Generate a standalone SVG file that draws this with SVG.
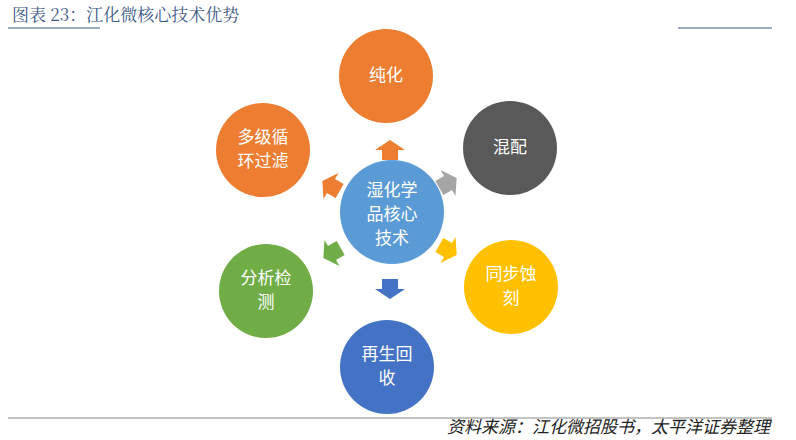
<svg xmlns="http://www.w3.org/2000/svg" width="796" height="440" viewBox="0 0 796 440">
<style>
.t{font-family:"Noto Sans CJK SC",sans-serif;fill:#fff;font-size:17px;text-anchor:middle}
</style>
<defs><polygon id="a" points="-8,10 -8,0 -15,0 0,-10 15,0 8,0 8,10"/></defs>
<rect width="796" height="440" fill="#fff"/>
<text x="12" y="21" font-family="Noto Serif CJK SC,Noto Sans CJK SC,serif" font-size="17" fill="#3d5a86">图表 23：江化微核心技术优势</text>
<line x1="8" y1="28" x2="100" y2="28" stroke="#3d5a86" stroke-width="1"/>
<line x1="678" y1="28" x2="772" y2="28" stroke="#3d5a86" stroke-width="1"/>
<line x1="8" y1="418" x2="772" y2="418" stroke="#888" stroke-width="1"/>
<text x="770" y="433" text-anchor="end" font-family="Noto Sans CJK SC,sans-serif" font-size="17" font-style="italic" fill="#222">资料来源：江化微招股书，太平洋证券整理</text>
<g id="connectors">
<use href="#a" transform="translate(390,150)" fill="#ed7d31"/>
<use href="#a" transform="translate(448,183) rotate(60)" fill="#a5a5a5"/>
<use href="#a" transform="translate(448,250) rotate(120)" fill="#ffc000"/>
<use href="#a" transform="translate(390,289) rotate(180)" fill="#4472c4"/>
<use href="#a" transform="translate(332,253) rotate(240)" fill="#70ad47"/>
<use href="#a" transform="translate(331,186) rotate(300)" fill="#ed7d31"/>
</g>
<g id="center"><circle cx="392" cy="212" r="52" fill="#5b9bd5"/><text class="t" x="392" y="196">湿化学</text><text class="t" x="392" y="220">品核心</text><text class="t" x="392" y="244">技术</text></g>
<g id="n1"><circle cx="386" cy="76" r="47" fill="#ed7d31"/><text class="t" x="386" y="81">纯化</text></g>
<g id="n2"><circle cx="510" cy="148" r="47" fill="#595959"/><text class="t" x="510" y="153">混配</text></g>
<g id="n3"><circle cx="511" cy="287" r="47" fill="#ffc000"/><text class="t" x="511" y="280">同步蚀</text><text class="t" x="511" y="304">刻</text></g>
<g id="n4"><circle cx="387" cy="367" r="47" fill="#4472c4"/><text class="t" x="387" y="360">再生回</text><text class="t" x="387" y="384">收</text></g>
<g id="n5"><circle cx="266" cy="291" r="47" fill="#70ad47"/><text class="t" x="266" y="284">分析检</text><text class="t" x="266" y="308">测</text></g>
<g id="n6"><circle cx="263" cy="150" r="47" fill="#ed7d31"/><text class="t" x="263" y="143">多级循</text><text class="t" x="263" y="167">环过滤</text></g>
</svg>
